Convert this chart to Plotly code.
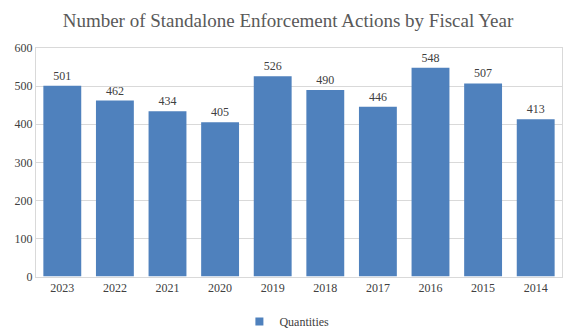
import plotly.graph_objects as go

years = ["2023", "2022", "2021", "2020", "2019", "2018", "2017", "2016", "2015", "2014"]
quantities = [501, 462, 434, 405, 526, 490, 446, 548, 507, 413]

font_family = "Liberation Serif"

fig = go.Figure()
fig.add_trace(go.Bar(
    x=years,
    y=quantities,
    name="Quantities",
    marker=dict(color="#4F81BD", line=dict(width=0)),
    text=[str(v) for v in quantities],
    textposition="outside",
    textfont=dict(family=font_family, size=12, color="#404040"),
    cliponaxis=False,
    showlegend=False,
))
# Legend entry with a small square swatch for the series
fig.add_trace(go.Scatter(
    x=[None], y=[None],
    mode="markers",
    name="Quantities",
    marker=dict(symbol="square", size=8, color="#4F81BD"),
    showlegend=True,
))

fig.update_layout(
    width=576,
    height=336,
    margin=dict(l=36, r=14, t=48, b=58),
    paper_bgcolor="white",
    plot_bgcolor="white",
    font=dict(family=font_family, size=12, color="#404040"),
    title=dict(
        text="Number of Standalone Enforcement Actions by Fiscal Year",
        font=dict(family=font_family, size=19, color="#595959"),
        x=0.5, xanchor="center", y=0.94, yanchor="middle",
    ),
    bargap=0.28,
    legend=dict(
        orientation="h",
        x=0.477, xanchor="center",
        yref="container",
        y=0.0, yanchor="bottom",
        font=dict(family=font_family, size=12, color="#404040"),
        itemwidth=30,
    ),
    xaxis=dict(
        type="category",
        tickfont=dict(family=font_family, size=12, color="#404040"),
        showline=True, linecolor="#D9D9D9", mirror=True,
        ticks="", showgrid=False,
    ),
    yaxis=dict(
        range=[0, 600],
        dtick=100,
        tickfont=dict(family=font_family, size=12, color="#404040"),
        showgrid=True, gridcolor="#D9D9D9",
        showline=True, linecolor="#D9D9D9", mirror=True,
        zeroline=False,
        ticks="",
    ),
)

fig.write_html("out.html")
